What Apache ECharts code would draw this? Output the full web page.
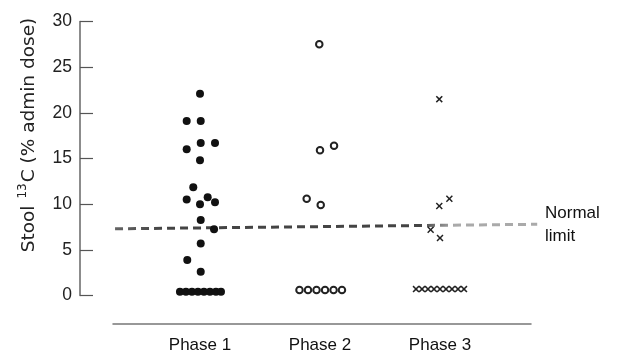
<!DOCTYPE html>
<html>
<head>
<meta charset="utf-8">
<script src="https://cdn.jsdelivr.net/npm/echarts@6/dist/echarts.min.js"></script>
<style>
  html, body { margin: 0; padding: 0; background: #fff; }
  #main { width: 618px; height: 358px; }
</style>
</head>
<body>
<div id="main"></div>
<script>
// categories on the x axis (positions 1, 2, 3)
var categories = ['Phase 1', 'Phase 2', 'Phase 3'];
var yTicks = [0, 5, 10, 15, 20, 25, 30];

// [x position (jittered around phase), stool 13C %]
var phase1 = [
    [1.0, 22.1],
    [0.889, 19.1], [1.006, 19.1],
    [1.006, 16.7], [1.125, 16.7], [0.889, 16.0], [1.0, 14.8],
    [0.944, 11.85],
    [0.889, 10.5], [1.0, 10.0], [1.064, 10.75], [1.125, 10.2],
    [1.006, 8.27], [1.117, 7.25],
    [1.006, 5.7], [0.894, 3.9], [1.006, 2.6],
    [0.833, 0.4], [0.883, 0.4], [0.933, 0.4], [0.983, 0.4],
    [1.033, 0.4], [1.083, 0.4], [1.133, 0.4], [1.175, 0.4]
];
var phase2 = [
    [1.994, 27.5],
    [2.0, 15.9], [2.117, 16.4],
    [1.889, 10.6], [2.006, 9.9],
    [1.829, 0.6], [1.9, 0.6], [1.971, 0.6], [2.042, 0.6], [2.113, 0.6], [2.183, 0.6]
];
var phase3 = [
    [2.994, 21.5],
    [3.078, 10.6], [2.994, 9.8],
    [2.922, 7.2], [3.0, 6.3],
    [2.8, 0.7], [2.85, 0.7], [2.9, 0.7], [2.95, 0.7], [3.0, 0.7],
    [3.05, 0.7], [3.1, 0.7], [3.15, 0.7], [3.2, 0.7]
];
// dashed "normal limit" line, start and end
var normalLimit = [[0.292, 7.3], [3.81, 7.8]];

var myChart = echarts.init(document.getElementById('main'));
var font = 'Liberation Sans';
var option = {
    animation: false,
    backgroundColor: '#fff',
    textStyle: { fontFamily: font },
    grid: [
        { left: 80, right: 20, top: 21.5, bottom: 62.5 },
        { left: 113, right: 87, top: 323, height: 1 }
    ],
    xAxis: [
        { gridIndex: 0, type: 'value', min: 0, max: 518 / 120, show: false },
        {
            gridIndex: 1, type: 'value', min: 0.275, max: 3.758,
            axisLine: { lineStyle: { color: '#777', width: 1.5 } },
            axisTick: { show: false },
            splitLine: { show: false },
            axisLabel: {
                customValues: [1, 2, 3],
                formatter: function (v) { return categories[Math.round(v) - 1]; },
                color: '#111', fontSize: 17, margin: 13, fontFamily: font
            }
        }
    ],
    yAxis: [
        {
            gridIndex: 0, type: 'value', min: 0, max: 30, interval: 5,
            axisLine: { show: true, lineStyle: { color: '#666', width: 1.5 } },
            axisTick: { show: true, inside: true, length: 13, lineStyle: { color: '#555', width: 1.2 } },
            splitLine: { show: false },
            axisLabel: {
                customValues: yTicks,
                color: '#222', fontSize: 17.5, margin: 8, fontFamily: font
            }
        },
        { gridIndex: 1, type: 'value', show: false }
    ],
    graphic: [
        {
            type: 'text', x: 28, y: 135, rotation: Math.PI / 2,
            style: {
                text: '{m|Stool }{s|13}{m|C (% admin dose)}',
                align: 'center', verticalAlign: 'middle',
                fill: '#222',
                rich: {
                    m: { fontSize: 18.5, fontFamily: 'DejaVu Sans', fill: '#222', lineHeight: 22, verticalAlign: 'bottom' },
                    s: { fontSize: 12, fontFamily: 'DejaVu Sans', fill: '#222', lineHeight: 22, verticalAlign: 'top', padding: [0, 1, 8, 1] }
                }
            }
        },
        {
            type: 'text', left: 545, top: 202,
            style: { text: 'Normal\nlimit', fontSize: 17, fontFamily: font, fill: '#111', lineHeight: 23 }
        }
    ],
    series: [
        {
            name: 'Normal limit', type: 'line', xAxisIndex: 0, yAxisIndex: 0,
            data: normalLimit, symbol: 'none', silent: true, z: 1,
            lineStyle: {
                width: 3, type: [8, 5],
                color: new echarts.graphic.LinearGradient(0, 0, 1, 0, [
                    { offset: 0, color: '#666' },
                    { offset: 0.12, color: '#444' },
                    { offset: 0.72, color: '#444' },
                    { offset: 0.8, color: '#aaa' },
                    { offset: 1, color: '#aaa' }
                ])
            }
        },
        {
            name: 'Phase 1', type: 'scatter', xAxisIndex: 0, yAxisIndex: 0,
            data: phase1, symbol: 'circle', symbolSize: 8, z: 3,
            itemStyle: { color: '#111', opacity: 1 }
        },
        {
            name: 'Phase 2', type: 'scatter', xAxisIndex: 0, yAxisIndex: 0,
            data: phase2, symbol: 'circle', symbolSize: 6.5, z: 3,
            itemStyle: { color: '#fff', borderColor: '#222', borderWidth: 2, opacity: 1 }
        },
        {
            name: 'Phase 3', type: 'scatter', xAxisIndex: 0, yAxisIndex: 0,
            data: phase3, z: 3,
            symbol: 'path://M0,1.5L1.5,0L5,3.5L8.5,0L10,1.5L6.5,5L10,8.5L8.5,10L5,6.5L1.5,10L0,8.5L3.5,5Z',
            symbolSize: 7,
            itemStyle: { color: '#222', opacity: 1 }
        }
    ]
};
myChart.setOption(option);
</script>
</body>
</html>
